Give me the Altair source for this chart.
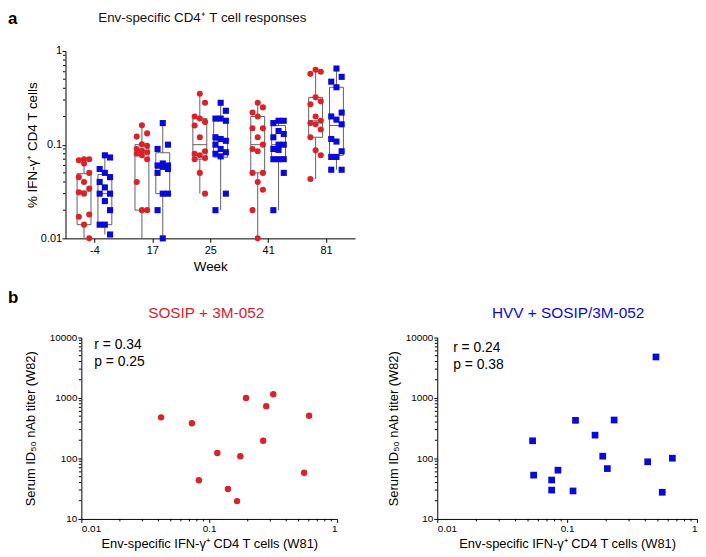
import json
import altair as alt
import pandas as pd

FONT = "Liberation Sans"
RED = "#d8232a"
BLUE = "#0a0ad8"
BOX_GRAY = "#606060"

# ---------------- text ----------------
WEEKS = ["-4", "17", "25", "41", "81"]
GROUP_KEYS = ["SOSIP", "HVV"]
GROUP_TITLES = ["SOSIP + 3M-052", "HVV + SOSIP/3M-052"]
PANEL_LABELS = ["a", "b"]
TOP_TITLE = "Env-specific CD4\u207a T cell responses"
TOP_Y_TITLE = "% IFN-\u03b3\u207a CD4 T cells"
TOP_X_TITLE = "Week"
SC_X_TITLE = "Env-specific IFN-\u03b3\u207a CD4 T cells (W81)"
SC_Y_TITLE = "Serum ID\u2085\u2080 nAb titer (W82)"
R_TEXT = ["r = 0.34", "r = 0.24"]
P_TEXT = ["p = 0.25", "p = 0.38"]

# ---------------- panel a: per-animal values ----------------
SOSIP_WM4 = [0.07, 0.07, 0.068, 0.063, 0.05, 0.045, 0.04, 0.034, 0.031, 0.03, 0.018, 0.017, 0.014, 0.01]
SOSIP_W17 = [0.161, 0.132, 0.122, 0.101, 0.097, 0.09, 0.086, 0.083, 0.08, 0.077, 0.07, 0.04, 0.02, 0.02]
SOSIP_W25 = [0.35, 0.28, 0.2, 0.19, 0.175, 0.16, 0.12, 0.085, 0.08, 0.077, 0.072, 0.07, 0.05, 0.03]
SOSIP_W41 = [0.28, 0.25, 0.22, 0.2, 0.15, 0.15, 0.12, 0.1, 0.09, 0.085, 0.05, 0.05, 0.04, 0.033, 0.02, 0.01]
SOSIP_W81 = [0.63, 0.6, 0.57, 0.32, 0.29, 0.27, 0.2, 0.18, 0.17, 0.165, 0.145, 0.12, 0.087, 0.077, 0.043]

HVV_WM4 = [0.077, 0.073, 0.055, 0.05, 0.045, 0.04, 0.035, 0.03, 0.03, 0.025, 0.02, 0.014, 0.014, 0.011]
HVV_W17 = [0.17, 0.1, 0.09, 0.063, 0.06, 0.06, 0.058, 0.055, 0.05, 0.03, 0.03, 0.02, 0.01]
HVV_W25 = [0.28, 0.23, 0.19, 0.19, 0.18, 0.12, 0.115, 0.11, 0.1, 0.09, 0.083, 0.08, 0.075, 0.03, 0.02]
HVV_W41 = [0.18, 0.18, 0.17, 0.14, 0.13, 0.12, 0.1, 0.1, 0.09, 0.088, 0.07, 0.07, 0.07, 0.05, 0.02]
HVV_W81 = [0.65, 0.53, 0.47, 0.41, 0.22, 0.2, 0.185, 0.165, 0.115, 0.108, 0.085, 0.074, 0.074, 0.054, 0.054]

# box summaries (per week)
SOSIP_MIN = [0.01, 0.01, 0.03, 0.01, 0.043]
SOSIP_Q1 = [0.014, 0.02, 0.07, 0.05, 0.12]
SOSIP_MED = [0.032, 0.083, 0.1, 0.1, 0.18]
SOSIP_Q3 = [0.049, 0.1, 0.19, 0.2, 0.32]
SOSIP_MAX = [0.07, 0.161, 0.35, 0.28, 0.63]

HVV_MIN = [0.011, 0.01, 0.02, 0.02, 0.054]
HVV_Q1 = [0.014, 0.03, 0.0735, 0.07, 0.077]
HVV_MED = [0.03, 0.056, 0.11, 0.1, 0.16]
HVV_Q3 = [0.048, 0.082, 0.186, 0.16, 0.41]
HVV_MAX = [0.077, 0.17, 0.28, 0.18, 0.65]

# ---------------- panel b: scatter values ----------------
SC_SOSIP_X = [0.042, 0.0732, 0.1156, 0.0829, 0.175, 0.140, 0.165, 0.194, 0.317, 0.279, 0.264, 0.604, 0.552]
SC_SOSIP_Y = [478, 382, 123, 43.5, 109, 31.3, 19.7, 1000, 1153, 733, 196, 509, 58]
SC_HVV_X = [0.0542, 0.0552, 0.076, 0.076, 0.085, 0.111, 0.116, 0.164, 0.188, 0.204, 0.230, 0.417, 0.483, 0.54, 0.646]
SC_HVV_Y = [196, 53, 44, 30, 64, 29, 427, 243, 109, 68, 432, 88, 4765, 27.6, 101]

# axis tick values
TOP_Y_MAJOR = [0.01, 0.1, 1]
TOP_Y_MINOR = [0.02, 0.03, 0.04, 0.05, 0.06, 0.07, 0.08, 0.09, 0.2, 0.3, 0.4, 0.5, 0.6, 0.7, 0.8, 0.9]
SC_X_MAJOR = [0.01, 0.1, 1]
SC_X_MINOR = TOP_Y_MINOR
SC_Y_MAJOR = [10, 100, 1000, 10000]
SC_Y_MINOR = [20, 30, 40, 50, 60, 70, 80, 90, 200, 300, 400, 500, 600, 700, 800, 900,
              2000, 3000, 4000, 5000, 6000, 7000, 8000, 9000]

# ---------------- build tables ----------------
sosip_series = [SOSIP_WM4, SOSIP_W17, SOSIP_W25, SOSIP_W41, SOSIP_W81]
hvv_series = [HVV_WM4, HVV_W17, HVV_W25, HVV_W41, HVV_W81]
pt_rows = []
for key, series in zip(GROUP_KEYS, [sosip_series, hvv_series]):
    for wi, vals in enumerate(series):
        for v in vals:
            pt_rows.append({"week": wi, "group": key, "value": v})
pts_df = pd.DataFrame(pt_rows)

box_rows = []
for key, stats in zip(GROUP_KEYS, [(SOSIP_MIN, SOSIP_Q1, SOSIP_MED, SOSIP_Q3, SOSIP_MAX),
                                   (HVV_MIN, HVV_Q1, HVV_MED, HVV_Q3, HVV_MAX)]):
    for wi in range(len(WEEKS)):
        box_rows.append({"week": wi, "group": key, "wmin": stats[0][wi], "q1": stats[1][wi],
                         "med": stats[2][wi], "q3": stats[3][wi], "wmax": stats[4][wi]})
box_df = pd.DataFrame(box_rows)

# ---------------- panel a ----------------
TW, TH = 292, 189
XS = alt.Scale(domain=[-0.5, len(WEEKS) - 0.5], nice=False, zero=False)
YS = alt.Scale(type="log", domain=[0.01, 1], nice=False)
GROUP_SHIFT = "(datum.group == 'SOSIP' ? -0.18 : 0.18)"

x_axis = alt.Axis(values=list(range(len(WEEKS))), labelExpr=json.dumps(WEEKS) + "[datum.value]",
                  title=TOP_X_TITLE, titleFontSize=13.5, titlePadding=4, labelFontSize=11,
                  tickSize=4, labelPadding=2, grid=False)
y_axis = alt.Axis(values=TOP_Y_MAJOR, format="~g", title=TOP_Y_TITLE, titleFontSize=13.5,
                  titlePadding=1, labelFontSize=11, tickSize=3.5, labelPadding=0.5, grid=False)

box_base = (alt.Chart(box_df)
            .transform_calculate(pos="datum.week + " + GROUP_SHIFT)
            .transform_calculate(lo="datum.pos - 0.12")
            .transform_calculate(hi="datum.pos + 0.12"))

whisk = box_base.mark_rule(color=BOX_GRAY, strokeWidth=1).encode(
    x=alt.X("pos:Q", scale=XS, axis=x_axis),
    y=alt.Y("wmin:Q", scale=YS, axis=y_axis), y2="wmax:Q")
rect = box_base.mark_rect(fill="white", stroke=BOX_GRAY, strokeWidth=1).encode(
    x=alt.X("lo:Q", scale=XS, axis=x_axis), x2="hi:Q",
    y=alt.Y("q1:Q", scale=YS, axis=y_axis), y2="q3:Q")
med = box_base.mark_rule(color=BOX_GRAY, strokeWidth=1).encode(
    x=alt.X("lo:Q", scale=XS, axis=x_axis), x2="hi:Q",
    y=alt.Y("med:Q", scale=YS, axis=y_axis))

pts = (alt.Chart(pts_df)
       .transform_window(rn="row_number()", groupby=["week", "group"],
                         sort=[alt.SortField("value", order="descending")])
       .transform_calculate(px="datum.week + " + GROUP_SHIFT + " + ((datum.rn % 3) - 1) * 0.09")
       .mark_point(filled=True, opacity=1, size=38, strokeWidth=0)
       .encode(
           x=alt.X("px:Q", scale=XS, axis=x_axis),
           y=alt.Y("value:Q", scale=YS, axis=y_axis),
           color=alt.Color("group:N", scale=alt.Scale(domain=GROUP_KEYS, range=[RED, BLUE]), legend=None),
           shape=alt.Shape("group:N", scale=alt.Scale(domain=GROUP_KEYS, range=["circle", "square"]), legend=None),
       ))

top_minor = alt.Chart(pd.DataFrame({"t": TOP_Y_MINOR})).mark_rule(color="black", strokeWidth=1).encode(
    x=alt.value(-2.5), x2=alt.value(0), y=alt.Y("t:Q", scale=YS, axis=y_axis))

lab_a = alt.Chart(pd.DataFrame({"t": [PANEL_LABELS[0]]})).mark_text(
    align="left", baseline="top", fontSize=17, fontWeight="bold", font=FONT, color="black"
).encode(x=alt.value(-58), y=alt.value(-40), text="t:N")
top_title = alt.Chart(pd.DataFrame({"t": [TOP_TITLE]})).mark_text(
    align="center", baseline="middle", fontSize=13.5, font=FONT, color="#111111"
).encode(x=alt.value(138), y=alt.value(-33), text="t:N")

top = alt.layer(whisk, rect, med, pts, top_minor, lab_a, top_title).properties(width=TW, height=TH)


# ---------------- panel b ----------------
def scatter(xs, ys, color, shape, size, title, rtext, ptext, width, rdx, rdy, title_dx, ypad, label=None):
    H = 183
    xs_scale = alt.Scale(type="log", domain=[0.01, 1], nice=False)
    ys_scale = alt.Scale(type="log", domain=[10, 10000], nice=False)
    df = pd.DataFrame({"x": xs, "y": ys})
    xa = alt.Axis(values=SC_X_MAJOR, format="~g", title=SC_X_TITLE, titleFontSize=13,
                  titlePadding=4.5, labelFontSize=10, tickSize=3.5, labelPadding=1, grid=False)
    ya = alt.Axis(values=SC_Y_MAJOR, format="~g", title=SC_Y_TITLE, titleFontSize=13,
                  titlePadding=ypad, labelFontSize=10, tickSize=3.5, labelPadding=1, grid=False)
    p = alt.Chart(df).mark_point(filled=True, opacity=1, size=size, shape=shape, color=color, strokeWidth=0).encode(
        x=alt.X("x:Q", scale=xs_scale, axis=xa),
        y=alt.Y("y:Q", scale=ys_scale, axis=ya))
    my = alt.Chart(pd.DataFrame({"t": SC_Y_MINOR})).mark_rule(color="black").encode(
        x=alt.value(-2.5), x2=alt.value(0), y=alt.Y("t:Q", scale=ys_scale, axis=ya))
    mx = alt.Chart(pd.DataFrame({"t": SC_X_MINOR})).mark_rule(color="black").encode(
        y=alt.value(H), y2=alt.value(H + 2.5), x=alt.X("t:Q", scale=xs_scale, axis=xa))
    ttl = alt.Chart(pd.DataFrame({"t": [title]})).mark_text(
        align="center", baseline="middle", fontSize=15.5, font=FONT, color=color
    ).encode(x=alt.value(width / 2 + title_dx), y=alt.value(-25), text="t:N")
    r_txt = alt.Chart(pd.DataFrame({"t": [rtext]})).mark_text(
        align="left", baseline="middle", fontSize=14, font=FONT, color="black"
    ).encode(x=alt.value(rdx), y=alt.value(rdy), text="t:N")
    p_txt = alt.Chart(pd.DataFrame({"t": [ptext]})).mark_text(
        align="left", baseline="middle", fontSize=14, font=FONT, color="black"
    ).encode(x=alt.value(rdx), y=alt.value(rdy + 16.5), text="t:N")
    layers = [p, my, mx, ttl, r_txt, p_txt]
    if label is not None:
        layers.append(alt.Chart(pd.DataFrame({"t": [label]})).mark_text(
            align="left", baseline="top", fontSize=17, fontWeight="bold", font=FONT, color="black"
        ).encode(x=alt.value(-74), y=alt.value(-48), text="t:N"))
    return alt.layer(*layers).properties(width=width, height=H)


left = scatter(SC_SOSIP_X, SC_SOSIP_Y, RED, "circle", 42, GROUP_TITLES[0], R_TEXT[0], P_TEXT[0],
               258, 13, 8, -3, 12, label=PANEL_LABELS[1])
right = scatter(SC_HVV_X, SC_HVV_Y, BLUE, "square", 46, GROUP_TITLES[1], R_TEXT[1], P_TEXT[1],
                262, 16, 11, 1, 5)

# empty spacer so that panel b's plots start 16 px right of panel a's plot
spacer = alt.Chart(pd.DataFrame({"s": [0]})).mark_point(opacity=0).encode(
    x=alt.value(0), y=alt.value(0)).properties(width=16, height=183)

pair = alt.hconcat(left, right, spacing=101, bounds="flush")
bottom = alt.hconcat(spacer, pair, spacing=0, bounds="flush")

chart = (alt.vconcat(top, bottom, spacing=16, padding=0)
         .configure(font=FONT)
         .configure_view(stroke=None)
         .configure_axis(domainColor="black", tickColor="black", labelColor="black", titleColor="black",
                         labelFont=FONT, titleFont=FONT, titleFontWeight="normal", domainWidth=1))

chart.save("out.html", embed_options={"renderer": "svg", "actions": False})
